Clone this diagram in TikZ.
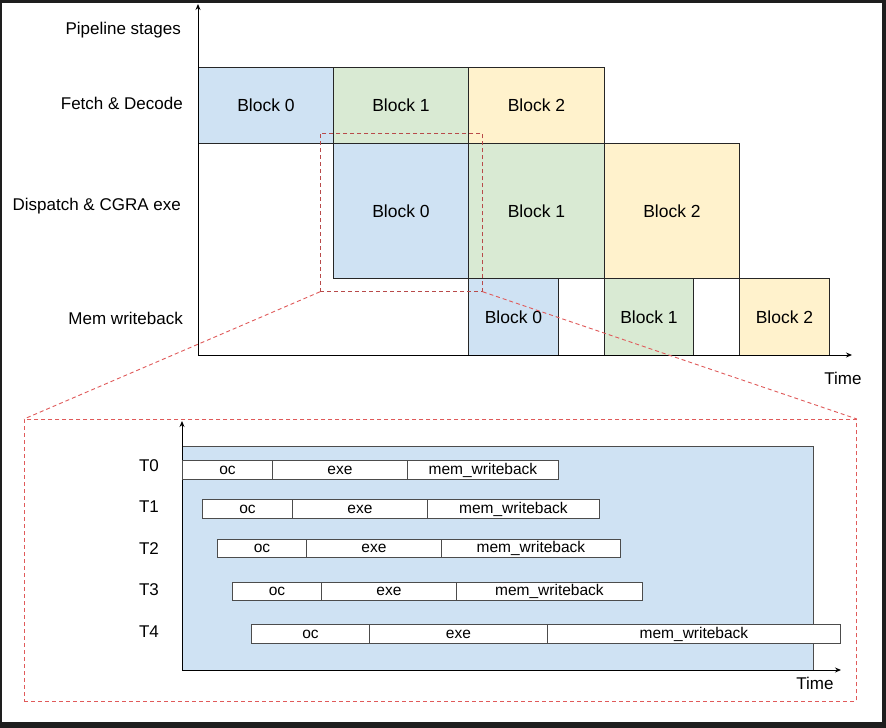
\documentclass[tikz,border=0pt]{standalone}
\usepackage{fontspec}
\setmainfont{Liberation Sans}
\usetikzlibrary{arrows.meta}
\definecolor{cblue}{HTML}{CFE2F3}
\definecolor{cgreen}{HTML}{D9EAD3}
\definecolor{cyellow}{HTML}{FFF2CC}
\definecolor{frame}{HTML}{1E1E1E}
\definecolor{zred}{HTML}{B84A4A}
\definecolor{dred}{HTML}{E05A5A}
\newcommand\bx[7]{\node[#6, minimum width={(#4-#2)*1pt}, minimum height={(#5-#3)*1pt}, anchor=north west] (#1) at (#2,#3) {#7};}
\tikzset{
  blk/.style={draw=black!85, line width=0.9pt, inner sep=0pt, font=\fontsize{17.5}{20}\selectfont},
  bar/.style={draw=black!70, fill=white, line width=0.9pt, inner sep=0pt, font=\fontsize{15.5}{18}\selectfont},
  lbl/.style={anchor=east, inner sep=0pt, font=\fontsize{17}{20}\selectfont},
  tlbl/.style={inner sep=0pt, font=\fontsize{17}{20}\selectfont},
  axis/.style={line width=0.9pt, draw=black, -{Stealth[length=6pt,width=5pt]}},
  zoomline/.style={draw=dred, line width=0.9pt, dash pattern=on 4pt off 3pt},
}
\begin{document}
\begin{tikzpicture}[x=1pt,y=-1pt]
\useasboundingbox (0,0) rectangle (886,728);
\fill[frame] (0,0) rectangle (886,728);
\fill[white] (2,3) rectangle (882,722);
% stage labels
\node[lbl] (lps) at (181,30) {Pipeline stages};
\node[lbl] (lfd) at (183,103) {Fetch \& Decode};
\node[lbl] (ldc) at (181,206) {Dispatch \& CGRA exe};
\node[lbl] (lmw) at (183,318) {Mem writeback};
% fetch row
\bx{f0}{198}{67}{333}{143}{blk,fill=cblue}{Block 0}
\bx{f1}{333}{67}{468}{143}{blk,fill=cgreen}{Block 1}
\bx{f2}{468}{67}{604}{143}{blk,fill=cyellow}{Block 2}
% dispatch row
\bx{d0}{333}{143}{468}{278}{blk,fill=cblue}{Block 0}
\bx{d1}{468}{143}{604}{278}{blk,fill=cgreen}{Block 1}
\bx{d2}{604}{143}{739}{278}{blk,fill=cyellow}{Block 2}
% mem row
\bx{m0}{468}{278}{558}{355}{blk,fill=cblue}{Block 0}
\bx{mg0}{558}{278}{604}{355}{blk,fill=white}{}
\bx{m1}{604}{278}{693}{355}{blk,fill=cgreen}{Block 1}
\bx{mg1}{693}{278}{739}{355}{blk,fill=white}{}
\bx{m2}{739}{278}{829}{355}{blk,fill=cyellow}{Block 2}
% axes
\coordinate (o1) at (198,355);
\coordinate (ytop) at (198,4);
\coordinate (xend) at (852,355);
\draw[axis] (o1) -- (ytop);
\draw[axis] (o1) -- (xend);
\node[tlbl] (time1) at (843,378) {Time};
% zoom rectangle
\node[draw=zred, line width=0.8pt, dash pattern=on 4pt off 3pt, inner sep=0pt, minimum width=162pt, minimum height=158pt, anchor=north west] (zoom) at (320,133) {};
% detail box
\node[draw=dred, line width=0.9pt, dash pattern=on 4pt off 3pt, inner sep=0pt, minimum width=832pt, minimum height=282pt, anchor=north west] (detail) at (24,419) {};
\draw[zoomline] (zoom.south west) -- (detail.north west);
\draw[zoomline] (zoom.south east) -- (detail.north east);
% inner chart
\bx{bg}{182}{446}{813}{670}{draw=black!70, line width=1.1pt, fill=cblue, inner sep=0pt}{}
\coordinate (o2) at (182,670);
\coordinate (ytop2) at (182,421);
\coordinate (xend2) at (841,670);
\draw[axis] (o2) -- (ytop2);
\draw[axis] (o2) -- (xend2);
\node[tlbl] (time2) at (815,683) {Time};
% thread labels
\node[tlbl] (t0) at (149,466) {T0};
\node[tlbl] (t1) at (149,507) {T1};
\node[tlbl] (t2) at (149,549) {T2};
\node[tlbl] (t3) at (149,590) {T3};
\node[tlbl] (t4) at (149,632) {T4};
% bars
\bx{t0oc}{182}{460}{272}{479}{bar}{oc}
\bx{t0ex}{272}{460}{407}{479}{bar}{exe}
\bx{t0mw}{407}{460}{558}{479}{bar}{mem\_writeback}
\bx{t1oc}{202}{499}{292}{518}{bar}{oc}
\bx{t1ex}{292}{499}{427}{518}{bar}{exe}
\bx{t1mw}{427}{499}{599}{518}{bar}{mem\_writeback}
\bx{t2oc}{217}{539}{306}{557}{bar}{oc}
\bx{t2ex}{306}{539}{441}{557}{bar}{exe}
\bx{t2mw}{441}{539}{620}{557}{bar}{mem\_writeback}
\bx{t3oc}{232}{582}{321}{600}{bar}{oc}
\bx{t3ex}{321}{582}{456}{600}{bar}{exe}
\bx{t3mw}{456}{582}{642}{600}{bar}{mem\_writeback}
\bx{t4oc}{251}{624}{369}{643}{bar}{oc}
\bx{t4ex}{369}{624}{547}{643}{bar}{exe}
\bx{t4mw}{547}{624}{840}{643}{bar}{mem\_writeback}
\end{tikzpicture}
\end{document}
